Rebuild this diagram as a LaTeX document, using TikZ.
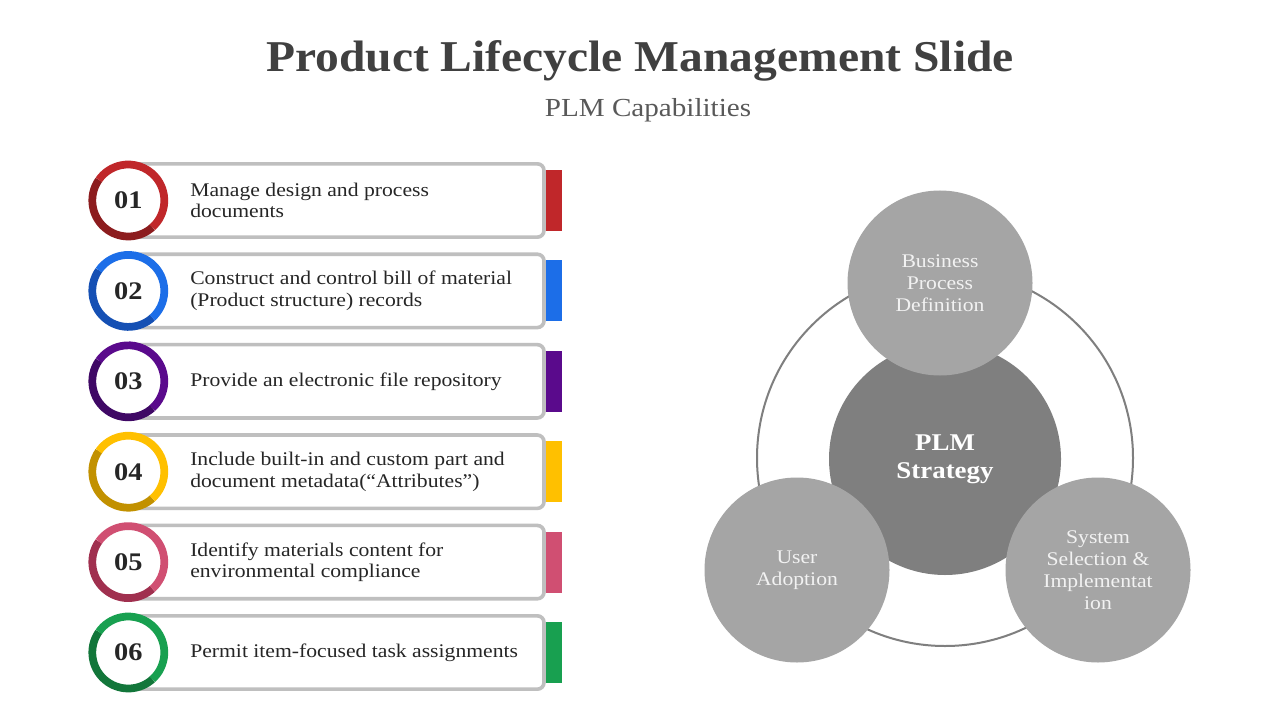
\documentclass[tikz,border=0pt]{standalone}
\usepackage{fontspec}
\setmainfont{Liberation Serif}
\newfontfamily\bodyfont{Liberation Serif}[FakeStretch=1.12]
\newfontfamily\titlefont{Liberation Serif}[FakeStretch=1.08]
\definecolor{titlegray}{HTML}{404040}
\definecolor{subgray}{HTML}{595959}
\definecolor{txtdark}{HTML}{262626}
\definecolor{boxgray}{HTML}{BFBFBF}
\definecolor{ringgray}{HTML}{7F7F7F}
\definecolor{midgray}{HTML}{7F7F7F}
\definecolor{lightgray}{HTML}{A5A5A5}
\definecolor{redL}{HTML}{C0272A}
\definecolor{redD}{HTML}{8C1C1E}
\definecolor{blueL}{HTML}{1C6EE8}
\definecolor{blueD}{HTML}{1550B4}
\definecolor{purpL}{HTML}{5A0A8C}
\definecolor{purpD}{HTML}{3F0865}
\definecolor{yelL}{HTML}{FFC000}
\definecolor{yelD}{HTML}{C29100}
\definecolor{pinkL}{HTML}{D04F72}
\definecolor{pinkD}{HTML}{A0304F}
\definecolor{grnL}{HTML}{18A050}
\definecolor{grnD}{HTML}{12763A}
\tikzset{
  titlestyle/.style={font=\titlefont\fontsize{33}{38}\selectfont\bfseries, text=titlegray, inner sep=0pt, anchor=base},
  substyle/.style={font=\bodyfont\fontsize{19.5}{23}\selectfont, text=subgray, inner sep=0pt, anchor=base},
  boxstyle/.style={draw=boxgray, fill=white, line width=2.7pt, rounded corners=5pt,
    minimum width=310.5pt, minimum height=55pt, inner sep=0pt, outer sep=0pt},
  tabstyle/.style={minimum width=11.75pt, minimum height=45.75pt, inner sep=0pt, outer sep=0pt},
  ringstyle/.style={circle, fill=white, minimum size=54pt, inner sep=0pt, outer sep=0pt},
  numstyle/.style={font=\bodyfont\fontsize{19}{22}\selectfont\bfseries, text=txtdark, inner sep=0pt},
  txtstyle/.style={font=\bodyfont\fontsize{14.5}{16.1}\selectfont, text=txtdark, align=left, inner sep=0pt, anchor=west},
  smallcirc/.style={circle, fill=lightgray, minimum size=138.75pt, inner sep=0pt, align=center,
    text=white!95!black, font=\bodyfont\fontsize{14.5}{16.5}\selectfont},
}
\begin{document}
\begin{tikzpicture}[x=0.75pt,y=-0.75pt]
\useasboundingbox[fill=white] (0,0) rectangle (1280,720);
\node[titlestyle] (title) at (640,72) {Product Lifecycle Management Slide};
\node[substyle] (sub) at (648,117) {PLM Capabilities};

\foreach \i/\num/\lc/\dc/\txt in {
  1/01/redL/redD/{Manage design and process\\documents},
  2/02/blueL/blueD/{Construct and control bill of material\\(Product structure) records},
  3/03/purpL/purpD/{Provide an electronic file repository},
  4/04/yelL/yelD/{Include built-in and custom part and\\document metadata(“Attributes”)},
  5/05/pinkL/pinkD/{Identify materials content for\\environmental compliance},
  6/06/grnL/grnD/{Permit item-focused task assignments}}{
  \pgfmathsetmacro\yc{200.5+90.4*(\i-1)}
  \node[boxstyle] (box\i) at (337,\yc) {};
  \node[tabstyle, fill=\lc] (tab\i) at (554,\yc) {};
  \node[ringstyle] (ring\i) at (128.3,\yc) {};
  \draw[line width=5.8pt, draw=\dc] (ring\i.145) arc[start angle=145, end angle=312, radius=27pt];
  \draw[line width=5.8pt, draw=\lc] (ring\i.312) arc[start angle=312, end angle=505, radius=27pt];
  \node[numstyle] (num\i) at (ring\i.center) {\num};
  \node[txtstyle] (txt\i) at (190,\yc) {\txt};
}

\node[circle, draw=ringgray, line width=1.5pt, minimum size=282pt, inner sep=0pt] (outer) at (945,458) {};
\node[circle, fill=midgray, minimum size=174pt, inner sep=0pt, align=center, text=white,
  font=\bodyfont\fontsize{18}{21}\selectfont\bfseries] (plm) at (945,459) {PLM\\Strategy};
\node[smallcirc] (bpd) at (940,283) {Business\\Process\\Definition};
\node[smallcirc] (ua) at (797,570) {User\\Adoption};
\node[smallcirc] (ssi) at (1098,570) {System\\Selection \&\\Implementat\\ion};
\end{tikzpicture}
\end{document}
